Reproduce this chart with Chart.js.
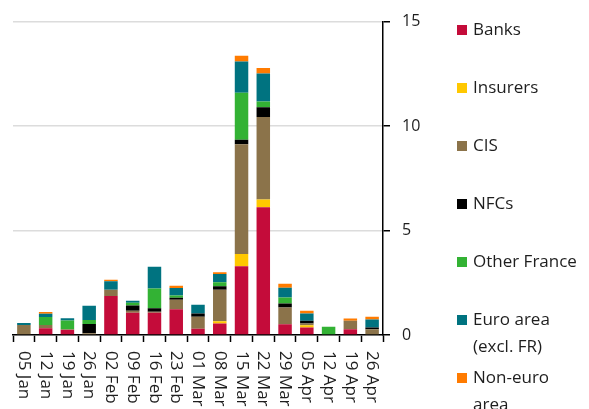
<!DOCTYPE html>
<html>
<head>
<meta charset="utf-8">
<script src="https://cdn.jsdelivr.net/npm/chart.js@4"></script>
<style>
  html, body { margin: 0; padding: 0; background: #fff; }
  #wrap { width: 589px; height: 409px; }
</style>
</head>
<body>
<div id="wrap"><canvas id="chart" width="589" height="409"></canvas></div>
<script>
const weeks = ['05 Jan', '12 Jan', '19 Jan', '26 Jan', '02 Feb', '09 Feb', '16 Feb', '23 Feb', '01 Mar',
  '08 Mar', '15 Mar', '22 Mar', '29 Mar', '05 Apr', '12 Apr', '19 Apr', '26 Apr'];

const banks    = [0, 0.32, 0.24, 0, 1.87, 1.06, 1.06, 1.23, 0.30, 0.55, 3.29, 6.12, 0.51, 0.36, 0, 0.28, 0];
const insurers = [0, 0, 0, 0, 0, 0, 0, 0, 0, 0.11, 0.59, 0.36, 0, 0.11, 0, 0, 0];
const cis      = [0.48, 0.16, 0.04, 0.08, 0.30, 0.10, 0.05, 0.46, 0.57, 1.50, 5.25, 3.95, 0.81, 0.08, 0, 0.40, 0.27];
const nfcs     = [0, 0, 0, 0.45, 0, 0.25, 0.17, 0.09, 0.16, 0.17, 0.21, 0.47, 0.19, 0.13, 0, 0, 0.09];
const otherFr  = [0, 0.38, 0.41, 0.19, 0, 0.13, 0.95, 0.11, 0, 0.19, 2.25, 0.27, 0.28, 0, 0.40, 0, 0];
const euroArea = [0.10, 0.16, 0.11, 0.68, 0.40, 0.10, 1.04, 0.36, 0.42, 0.40, 1.50, 1.34, 0.47, 0.35, 0, 0, 0.38];
const nonEuro  = [0, 0.08, 0, 0, 0.08, 0, 0, 0.11, 0, 0.08, 0.28, 0.27, 0.19, 0.13, 0, 0.11, 0.13];

const yTicks = [0, 5, 10, 15];

const FONT = '"Open Sans"';
const TXT = '#1e1e1e';

// legend drawn by hand, the labels wrap like in the original
const sideLegend = {
  id: 'sideLegend',
  afterDraw(chart) {
    const ctx = chart.ctx;
    ctx.save();
    ctx.font = '17px ' + FONT;
    ctx.textBaseline = 'middle';
    ctx.textAlign = 'left';
    chart.data.datasets.forEach((ds, i) => {
      const y = 30 + i * 58;
      ctx.fillStyle = ds.backgroundColor;
      ctx.fillRect(457, y - 5, 10, 10);
      ctx.fillStyle = TXT;
      const lines = ds.legendLines || [ds.label];
      lines.forEach((l, j) => ctx.fillText(l, 473, y + j * 27));
    });
    ctx.restore();
  }
};

// x labels read top-to-bottom
const xLabels = {
  id: 'xLabels',
  afterDraw(chart) {
    const ctx = chart.ctx;
    const sc = chart.scales.x;
    ctx.save();
    ctx.font = '17px ' + FONT;
    ctx.fillStyle = TXT;
    ctx.textBaseline = 'middle';
    ctx.textAlign = 'left';
    chart.data.labels.forEach((lab, i) => {
      const x = sc.getPixelForValue(i);
      ctx.save();
      ctx.translate(x, 351);
      ctx.rotate(Math.PI / 2);
      ctx.fillText(lab, 0, 0);
      ctx.restore();
    });
    ctx.restore();
  }
};

function series(label, data, color, lines) {
  return { label, data, backgroundColor: color, borderWidth: 0, legendLines: lines,
    barPercentage: 0.62, categoryPercentage: 1 };
}

new Chart(document.getElementById('chart'), {
  type: 'bar',
  data: {
    labels: weeks,
    datasets: [
      series('Banks', banks, '#c40c3a'),
      series('Insurers', insurers, '#ffc800'),
      series('CIS', cis, '#8b734a'),
      series('NFCs', nfcs, '#000000'),
      series('Other France', otherFr, '#33b234'),
      series('Euro area (excl. FR)', euroArea, '#007380', ['Euro area', '(excl. FR)']),
      series('Non-euro area', nonEuro, '#ff7b00', ['Non-euro', 'area'])
    ]
  },
  options: {
    responsive: false,
    animation: false,
    layout: { padding: { top: 19, left: 13, right: 0, bottom: 0 } },
    plugins: { legend: { display: false }, tooltip: { enabled: false } },
    scales: {
      x: {
        stacked: true,
        offset: true,
        grid: { display: true, drawOnChartArea: false, offset: true, tickLength: 7, tickColor: '#000', tickWidth: 1.5 },
        border: { color: '#000', width: 1.5 },
        ticks: { display: false },
        afterFit(scale) { scale.height = 74; }
      },
      y: {
        stacked: true,
        position: 'right',
        min: 0,
        max: 15,
        afterBuildTicks(scale) { scale.ticks = yTicks.map(v => ({ value: v })); },
        grid: { color: '#dcdcdc', lineWidth: 1.5, tickColor: '#000', tickLength: 7, tickWidth: 1.5 },
        border: { color: '#000', width: 1.5 },
        ticks: { padding: 12, color: TXT, font: { family: FONT, size: 16 } },
        afterFit(scale) { scale.width = 206; }
      }
    }
  },
  plugins: [sideLegend, xLabels]
});
</script>
</body>
</html>
